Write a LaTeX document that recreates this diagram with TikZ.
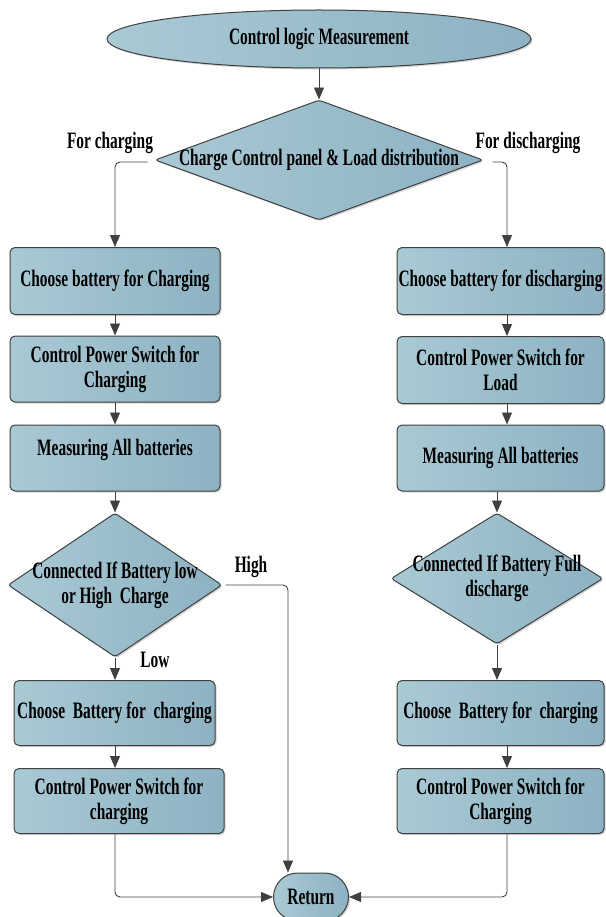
\documentclass[tikz,border=0pt]{standalone}
\usepackage{fontspec}
\setmainfont{Liberation Serif}[FakeStretch=0.655]
\usetikzlibrary{shapes.geometric,shapes.misc,arrows.meta,shadows,calc}

\definecolor{boxlight}{HTML}{A9C9D4}
\definecolor{boxdark}{HTML}{8DB2C2}
\definecolor{edgegray}{HTML}{404040}

\begin{document}
\begin{tikzpicture}[x=1pt,y=-1pt]
  % Styles
  \tikzset{
    txt/.style={font=\fontsize{23.5}{25}\selectfont\bfseries, align=center},
    blk/.style={txt, draw=edgegray, line width=1pt, left color=boxlight, right color=boxdark,
      drop shadow={shadow xshift=1.5pt, shadow yshift=-1.5pt, opacity=0.35}},
    box/.style={blk, rectangle, rounded corners=5pt, inner sep=0pt},
    decision/.style={blk, diamond, rounded corners=3pt, inner sep=0pt},
    arr/.style={-{Triangle[length=12pt, width=10pt]}, draw=edgegray, line width=0.9pt},
    lnk/.style={arr, rounded corners=5pt},
  }

  % Cadre
  \useasboundingbox (0,0) rectangle (605,917);

  % Colonnes des fleches
  \coordinate (lx) at (115,0);
  \coordinate (rx) at (507,0);
  \coordinate (mx) at (497,0);
  \coordinate (hx) at (288,0);

  % Haut
  \node[blk, ellipse, minimum width=424pt, minimum height=58pt] (measure) at (319,39) {Control logic Measurement};
  \node[decision, minimum width=328pt, minimum height=120pt,
    label={[txt]center:Charge Control panel \& Load distribution}] (panel) at (319,160) {};

  % Branche charge
  \node[box, minimum width=210pt, minimum height=67pt] (cb1) at (115,281) {Choose battery for Charging};
  \node[box, minimum width=210pt, minimum height=66pt] (cps1) at (115,369) {Control Power Switch for\\Charging};
  \node[box, minimum width=210pt, minimum height=66pt, text depth=21pt] (mab1) at (115,458) {Measuring All batteries};
  \node[decision, minimum width=214pt, minimum height=144pt,
    label={[txt]center:{Connected If Battery low\\or High~ Charge}}] (dec1) at (115,585) {};
  \node[box, minimum width=201pt, minimum height=65pt] (cb2) at (114.5,713) {Choose~ Battery for~ charging};
  \node[box, minimum width=210pt, minimum height=65pt] (cps2) at (119,801) {Control Power Switch for\\charging};

  % Branche decharge
  \node[box, minimum width=207pt, minimum height=67pt] (db1) at (500.5,281) {Choose battery for discharging};
  \node[box, minimum width=207pt, minimum height=67pt] (cpl1) at (500.5,370) {Control Power Switch for\\Load};
  \node[box, minimum width=207pt, minimum height=66pt] (mab2) at (500.5,458) {Measuring All batteries};
  \node[decision, minimum width=212pt, minimum height=131pt,
    label={[txt]center:{Connected If Battery Full\\discharge}}] (dec2) at (497,578.5) {};
  \node[box, minimum width=207pt, minimum height=65pt] (cb3) at (500.5,713) {Choose~ Battery for~ charging};
  \node[box, minimum width=207pt, minimum height=65pt] (cps3) at (500.5,801) {Control Power Switch for\\Charging};

  % Fin
  \node[blk, rounded rectangle, minimum width=79pt, minimum height=48pt, inner sep=2pt] (ret) at (311,897) {Return};

  % Etiquettes
  \node[txt] (forch) at (110,143) {For charging};
  \node[txt] (fordis) at (528,143) {For discharging};
  \node[txt] (high) at (251,567) {High};
  \node[txt] (low) at (155,660) {Low};

  % Fleches
  \draw[arr] (measure) -- (panel);
  \draw[lnk] ($(panel.west)+(-7,2)$) -| (cb1.north -| lx);
  \draw[lnk] ($(panel.east)+(9,2)$) -| (db1.north -| rx);

  \foreach \a/\b in {cb1/cps1, cps1/mab1, mab1/dec1, dec1/cb2, cb2/cps2}
    \draw[arr] (\a.south -| lx) -- (\b.north -| lx);
  \foreach \a/\b in {db1/cpl1, cpl1/mab2, cb3/cps3}
    \draw[arr] (\a.south -| rx) -- (\b.north -| rx);
  \foreach \a/\b in {mab2/dec2, dec2/cb3}
    \draw[arr] (\a.south -| mx) -- (\b.north -| mx);

  \draw[lnk] ($(dec1.east)+(3,0)$) -| (hx |- ret.north);
  \draw[lnk] (cps2.south -| lx) |- (ret.west);
  \draw[lnk] (cps3.south -| rx) |- (ret.east);

\end{tikzpicture}
\end{document}
